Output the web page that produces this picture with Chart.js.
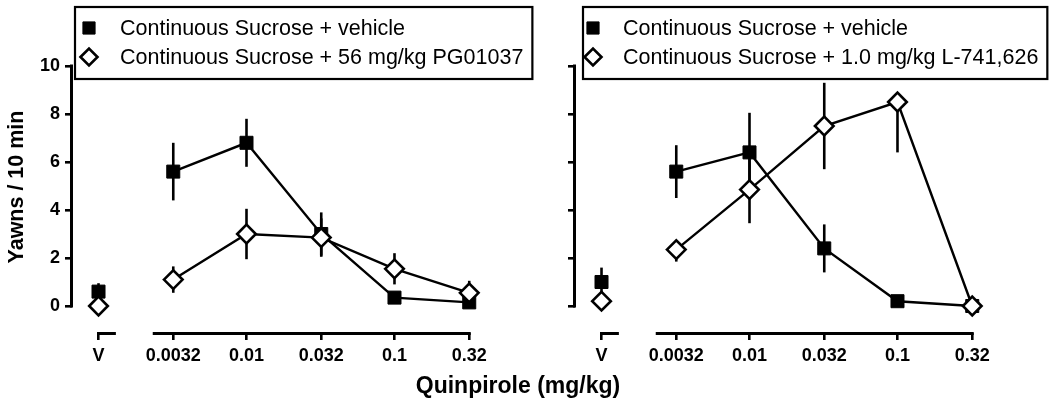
<!DOCTYPE html>
<html lang="en">
<head>
<meta charset="UTF-8">
<title>Quinpirole yawning</title>
<script src="https://cdn.jsdelivr.net/npm/chart.js"></script>
<style>
  body { margin: 0; background: #fff; }
  .wrap { position: relative; width: 1050px; height: 408px; background: #fff; font-family: "Liberation Sans", Arial, sans-serif; }
  .wrap canvas { position: absolute; left: 0; top: 0; }
  .ytitle { position: absolute; left: -134px; top: 173px; width: 300px; text-align: center;
            font-weight: bold; font-size: 21.5px; line-height: 28px; transform: rotate(-90deg); }
  .xtitle { position: absolute; left: 318px; top: 371px; width: 400px; text-align: center;
            font-weight: bold; font-size: 23px; line-height: 28px; }
</style>
</head>
<body>
<div class="wrap">
  <canvas id="leftChart" width="1050" height="408"></canvas>
  <canvas id="rightChart" width="1050" height="408"></canvas>
  <div class="ytitle">Yawns / 10 min</div>
  <div class="xtitle">Quinpirole (mg/kg)</div>
</div>

<script>
// doses on the x axis (first tick is the vehicle "V" point)
const DOSES = [0.0032, 0.01, 0.032, 0.1, 0.32];
const X_TICK_LABELS = ['V', '0.0032', '0.01', '0.032', '0.1', '0.32'];
const Y_TICKS = [0, 2, 4, 6, 8, 10];

// left panel: first value = V, then one per dose
const LEFT_LABELS = ['Continuous Sucrose + vehicle', 'Continuous Sucrose + 56 mg/kg PG01037'];
const LEFT_VEH = [0.6, 5.6, 6.8, 3.0, 0.35, 0.15];
const LEFT_VEH_SEM = [0.35, 1.2, 1.0, 0.9, 0.1, 0.1];
const LEFT_PG = [0, 1.1, 3.0, 2.85, 1.55, 0.55];
const LEFT_PG_SEM = [0, 0.55, 1.05, 0.8, 0.65, 0.5];

// right panel
const RIGHT_LABELS = ['Continuous Sucrose + vehicle', 'Continuous Sucrose + 1.0 mg/kg L-741,626'];
const RIGHT_VEH = [1.0, 5.6, 6.4, 2.4, 0.2, 0];
const RIGHT_VEH_SEM = [0.6, 1.1, 1.65, 1.0, 0.1, 0];
const RIGHT_L741 = [0.2, 2.35, 4.85, 7.5, 8.5, 0];
const RIGHT_L741_UP = [0, 0, 1.4, 1.8, 0, 0];
const RIGHT_L741_DOWN = [0, 0.5, 1.4, 1.8, 2.1, 0];

// layout (not data): where the V point sits on the log axis, broken x-axis pieces
const V_POS = 0.001;
const X_SEGMENTS = [[0.001, 0.00128], [0.00238, 0.32]];
const FONT = '"Liberation Sans", Arial, sans-serif';

function points(values) {
  return [V_POS].concat(DOSES).map((d, i) => ({ x: d, y: values[i] }));
}

// error bars drawn under the markers
const errorBars = {
  id: 'errorBars',
  beforeDatasetsDraw(chart) {
    const { ctx, scales: { x, y } } = chart;
    ctx.save();
    ctx.strokeStyle = '#000';
    ctx.lineWidth = 2.6;
    chart.data.datasets.forEach(ds => {
      ds.data.forEach((pt, i) => {
        const up = ds.errUp[i], down = ds.errDown[i];
        if (!up && !down) return;
        const px = x.getPixelForValue(pt.x);
        ctx.beginPath();
        ctx.moveTo(px, y.getPixelForValue(pt.y + up));
        ctx.lineTo(px, y.getPixelForValue(pt.y - down));
        ctx.stroke();
      });
    });
    ctx.restore();
  }
};

// y axis only from 0 to 10, x axis split into V piece and dose piece
const brokenAxes = {
  id: 'brokenAxes',
  beforeDatasetsDraw(chart) {
    const { ctx, chartArea, scales: { x, y } } = chart;
    const ax = Math.round(chartArea.left) - 0.5;
    const ay = Math.round(chartArea.bottom) + 0.5;
    ctx.save();
    ctx.strokeStyle = '#000';
    ctx.lineWidth = 3;
    ctx.lineCap = 'square';
    ctx.beginPath();
    ctx.moveTo(ax, y.getPixelForValue(Y_TICKS[0]));
    ctx.lineTo(ax, y.getPixelForValue(Y_TICKS[Y_TICKS.length - 1]));
    X_SEGMENTS.forEach(([a, b]) => {
      ctx.moveTo(x.getPixelForValue(a), ay);
      ctx.lineTo(x.getPixelForValue(b), ay);
    });
    ctx.stroke();
    ctx.restore();
  }
};

// boxed legend sitting over the top of the panel
const boxLegend = {
  id: 'boxLegend',
  afterDraw(chart, args, opts) {
    const ctx = chart.ctx;
    const rows = [28, 57];
    ctx.save();
    ctx.font = '21.5px ' + FONT;
    const maxW = Math.max(...chart.data.datasets.map(ds => ctx.measureText(ds.label).width));
    const right = opts.textX + maxW + 9;
    ctx.fillStyle = '#fff';
    ctx.fillRect(opts.x, 7, right - opts.x, 72);
    ctx.strokeStyle = '#000';
    ctx.lineWidth = 2.2;
    ctx.strokeRect(opts.x, 7, right - opts.x, 72);
    chart.data.datasets.forEach((ds, i) => {
      ctx.fillStyle = ds.pointBackgroundColor;
      ctx.strokeStyle = '#000';
      ctx.lineWidth = ds.pointBorderWidth;
      Chart.helpers.drawPoint(ctx, {
        pointStyle: ds.pointStyle, rotation: 0,
        radius: ds.pointStyle === 'rect' ? 8.6 : 8.5,
        borderWidth: ds.pointBorderWidth
      }, opts.markerX, rows[i]);
      ctx.fillStyle = '#000';
      ctx.textBaseline = 'middle';
      ctx.fillText(ds.label, opts.textX, rows[i] + 1);
    });
    ctx.restore();
  }
};

function makeChart(id, labels, veh, vehUp, vehDown, drug, drugUp, drugDown, pos) {
  const hideVSegment = { borderColor: c => c.p0DataIndex === 0 ? 'rgba(0,0,0,0)' : undefined };
  return new Chart(document.getElementById(id), {
    type: 'line',
    data: {
      datasets: [
        {
          label: labels[0], data: points(veh), errUp: vehUp, errDown: vehDown,
          borderColor: '#000', borderWidth: 2.4, segment: hideVSegment,
          pointStyle: 'rect', pointRadius: 9.2, pointBackgroundColor: '#000',
          pointBorderColor: '#000', pointBorderWidth: 1, order: 2
        },
        {
          label: labels[1], data: points(drug), errUp: drugUp, errDown: drugDown,
          borderColor: '#000', borderWidth: 2.4, segment: hideVSegment,
          pointStyle: 'rectRot', pointRadius: 9.3, pointBackgroundColor: '#fff',
          pointBorderColor: '#000', pointBorderWidth: 2.6, order: 1
        }
      ]
    },
    options: {
      responsive: false,
      animation: false,
      events: [],
      layout: { padding: { left: pos.padLeft, right: pos.padRight, top: 66, bottom: 0 } },
      plugins: {
        legend: { display: false },
        tooltip: { enabled: false },
        boxLegend: pos.legend
      },
      scales: {
        x: {
          type: 'logarithmic',
          min: 0.000662, max: 0.456,
          afterBuildTicks: s => { s.ticks = [V_POS].concat(DOSES).map(v => ({ value: v })); },
          afterFit: s => { s.height = 75; },
          border: { display: false },
          grid: { drawOnChartArea: false, drawTicks: true, tickLength: 7, color: '#000', lineWidth: 2.6 },
          ticks: {
            autoSkip: false, maxRotation: 0, padding: 5, color: '#000',
            font: { family: FONT, size: 18, weight: 'bold' },
            callback: (v, i) => X_TICK_LABELS[i]
          }
        },
        y: {
          min: -1.125, max: 10,
          afterBuildTicks: s => { s.ticks = Y_TICKS.map(v => ({ value: v })); },
          afterFit: s => { s.width = 72; },
          border: { display: false },
          grid: { drawOnChartArea: false, drawTicks: true, tickLength: 7, color: '#000', lineWidth: 2.6 },
          ticks: {
            padding: 5, color: '#000',
            font: { family: FONT, size: 18, weight: 'bold' },
            callback: v => pos.showYLabels ? String(v) : ''
          }
        }
      }
    },
    plugins: [brokenAxes, errorBars, boxLegend]
  });
}

makeChart('leftChart', LEFT_LABELS,
  LEFT_VEH, LEFT_VEH_SEM, LEFT_VEH_SEM, LEFT_PG, LEFT_PG_SEM, LEFT_PG_SEM,
  { padLeft: 0, padRight: 558, showYLabels: true, legend: { x: 75, markerX: 89, textX: 120 } });

makeChart('rightChart', RIGHT_LABELS,
  RIGHT_VEH, RIGHT_VEH_SEM, RIGHT_VEH_SEM, RIGHT_L741, RIGHT_L741_UP, RIGHT_L741_DOWN,
  { padLeft: 503, padRight: 55, showYLabels: false, legend: { x: 583, markerX: 593, textX: 623 } });
</script>
</body>
</html>
